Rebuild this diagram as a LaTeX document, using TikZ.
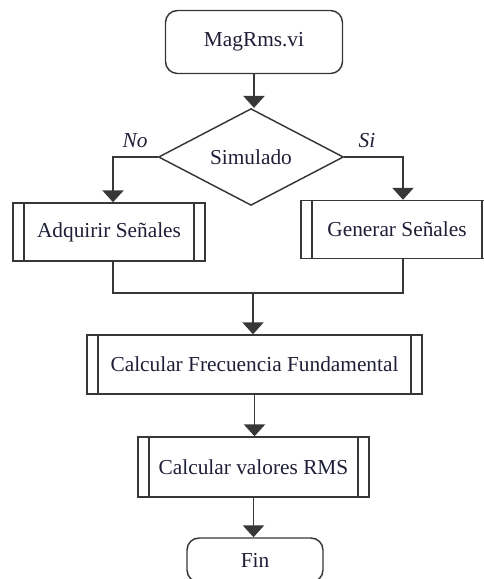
\documentclass[tikz,border=0pt]{standalone}
\usepackage{fontspec}
\setmainfont{Liberation Serif}
\usetikzlibrary{shapes.geometric,arrows.meta}
\definecolor{gris}{RGB}{55,55,55}
\definecolor{texto}{RGB}{30,30,55}
\begin{document}
\begin{tikzpicture}[x=0.75pt, y=-0.75pt, >={Triangle[width=16pt,length=9pt]},
		every node/.style={font=\fontsize{16}{19}\selectfont, text=texto},
		trazo/.style={draw=gris, line width=1.1pt},
		inicio/.style={trazo, rounded corners=9pt, inner sep=0pt},
		decision/.style={trazo, diamond, inner sep=0pt},
		subproc/.style={trazo, rectangle, inner sep=0pt, path picture={
			\draw[trazo] ([xshift=8.25pt]path picture bounding box.north west) -- ([xshift=8.25pt]path picture bounding box.south west);
			\draw[trazo] ([xshift=-8.25pt]path picture bounding box.north east) -- ([xshift=-8.25pt]path picture bounding box.south east);}},
		etiq/.style={font=\fontsize{16}{19}\selectfont\itshape}]
		\useasboundingbox (0,0) rectangle (483,579);

		% bloques
		\node[inicio, minimum width=132.75pt, minimum height=47.25pt] (start) at (254,42) {MagRms.vi};
		\node[decision, minimum width=138.75pt, minimum height=62.25pt] (dec) at (251,157) {Simulado};
		\node[subproc, minimum width=144pt, minimum height=43.5pt] (adq) at (109,232) {Adquirir Señales};
		\node[subproc, minimum width=144pt, minimum height=43.5pt] (gen) at (397,229.5) {Generar Señales};
		\node[subproc, minimum width=251.25pt, minimum height=44.25pt] (frec) at (254.5,364.5) {Calcular Frecuencia Fundamental};
		\node[subproc, minimum width=173.25pt, minimum height=45pt] (rms) at (253.5,467) {Calcular valores RMS};
		\node[inicio, minimum width=102pt, minimum height=33pt] (fin) at (255,560) {Fin};
		\coordinate (union) at (253,293);

		\node[etiq] (no) at (135,141) {No};
		\node[etiq] (si) at (367,141) {Si};

		% conexiones
		\draw[trazo,->] (start.south) -- (start.south |- dec.north);
		\draw[trazo,->] (dec.west) -| ([xshift=3pt]adq.north);
		\draw[trazo,->] (dec.east) -| ([xshift=4.5pt]gen.north);
		\draw[trazo] ([xshift=3pt]adq.south) |- (union) -| ([xshift=4.5pt]gen.south);
		\draw[trazo,->] (union) -- (union |- frec.north);
		\draw[trazo,->] (frec.south) -- (frec.south |- rms.north);
		\draw[trazo,->] (rms.south) -- (rms.south |- fin.north);
	\end{tikzpicture}
\end{document}
